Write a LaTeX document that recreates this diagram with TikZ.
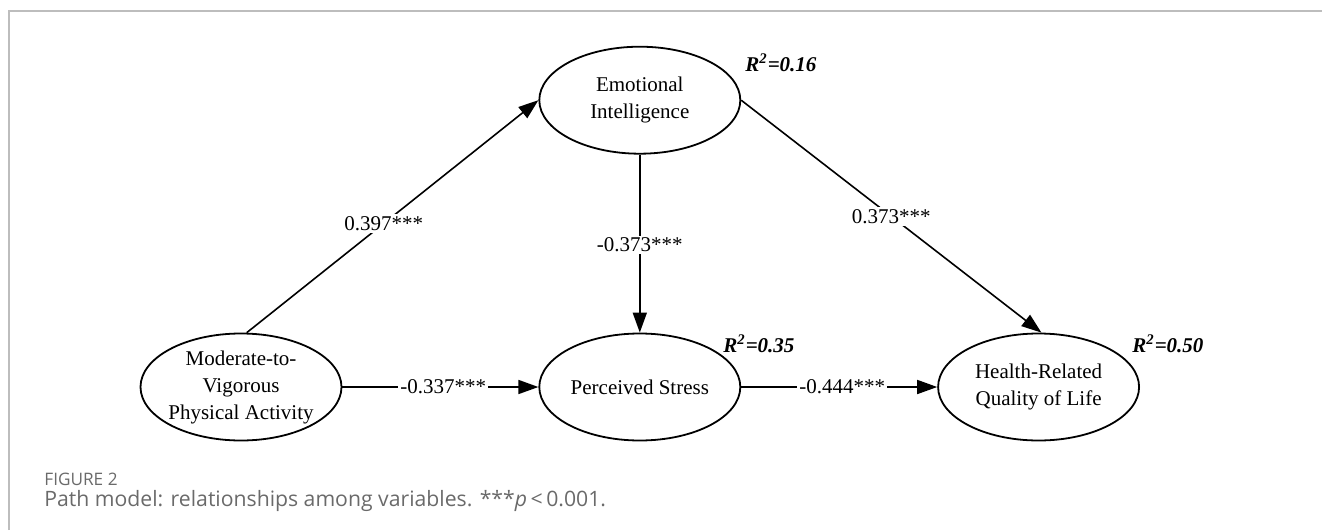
\documentclass[tikz,border=0pt]{standalone}
\usepackage{fontspec}
\setmainfont{Liberation Serif}
\newfontfamily\capfont{Open Sans}
\usetikzlibrary{positioning, arrows.meta, shapes.geometric}
\definecolor{framegray}{HTML}{BDBDBD}
\definecolor{capgray}{HTML}{6A6A6A}
\tikzset{
  construct/.style={draw, ellipse, line width=0.9pt, minimum width=100.5pt, minimum height=53.5pt, inner ysep=0pt, inner xsep=-3pt, align=center, font=\fontsize{10.5}{13.5}\selectfont},
  arr/.style={-{Triangle[length=10pt, width=7pt]}, line width=0.8pt},
  lbl/.style={font=\fontsize{10.5}{12}\selectfont, fill=white, inner sep=1pt, midway},
  rsq/.style={font=\fontsize{10.5}{12}\selectfont\bfseries\itshape, anchor=west, inner sep=0pt},
  capt/.style={anchor=west, text=capgray, inner sep=0pt}
}

\begin{document}
\begin{tikzpicture}[x=0.5pt, y=-0.5pt, node distance=89pt and 98pt]
\useasboundingbox (0,0) rectangle (1322,530);
\draw[framegray, line width=1pt] (9,530) -- (9,11) -- (1322,11);
% latent variables
\node[construct] (mvpa) at (241,387) {Moderate-to-\\Vigorous\\Physical Activity};
\node[construct, right=of mvpa] (ps) {Perceived Stress};
\node[construct, right=of ps] (hrq) {Health-Related\\Quality of Life};
\node[construct, above=of ps] (ei) {Emotional\\Intelligence};
% explained variance
\node[rsq] (r2ei) at (745,63) {R\textsuperscript{2}=0.16};
\node[rsq] (r2ps) at (723,344) {R\textsuperscript{2}=0.35};
\node[rsq] (r2hrq) at (1132,344) {R\textsuperscript{2}=0.50};
% paths
\draw[arr] (mvpa.84) -- node[lbl, pos=0.47] {0.397***} (ei.west);
\draw[arr] (ei.east) -- node[lbl] {0.373***} (hrq.87);
\draw[arr] (ei) -- node[lbl, pos=0.506] {-0.373***} (ps);
\draw[arr] (mvpa) -- node[lbl, pos=0.515] {-0.337***} (ps);
\draw[arr] (ps) -- node[lbl, pos=0.515] {-0.444***} (hrq);
% caption
\node[capt, font=\capfont\fontsize{8.6}{10}\selectfont] (fig) at (44,479) {FIGURE 2};
\node[capt, font=\capfont\fontsize{10.6}{12}\selectfont] (cap) at (44,501) {Path model: relationships among variables. ***\textit{p}\,<\,0.001.};
\end{tikzpicture}
\end{document}
